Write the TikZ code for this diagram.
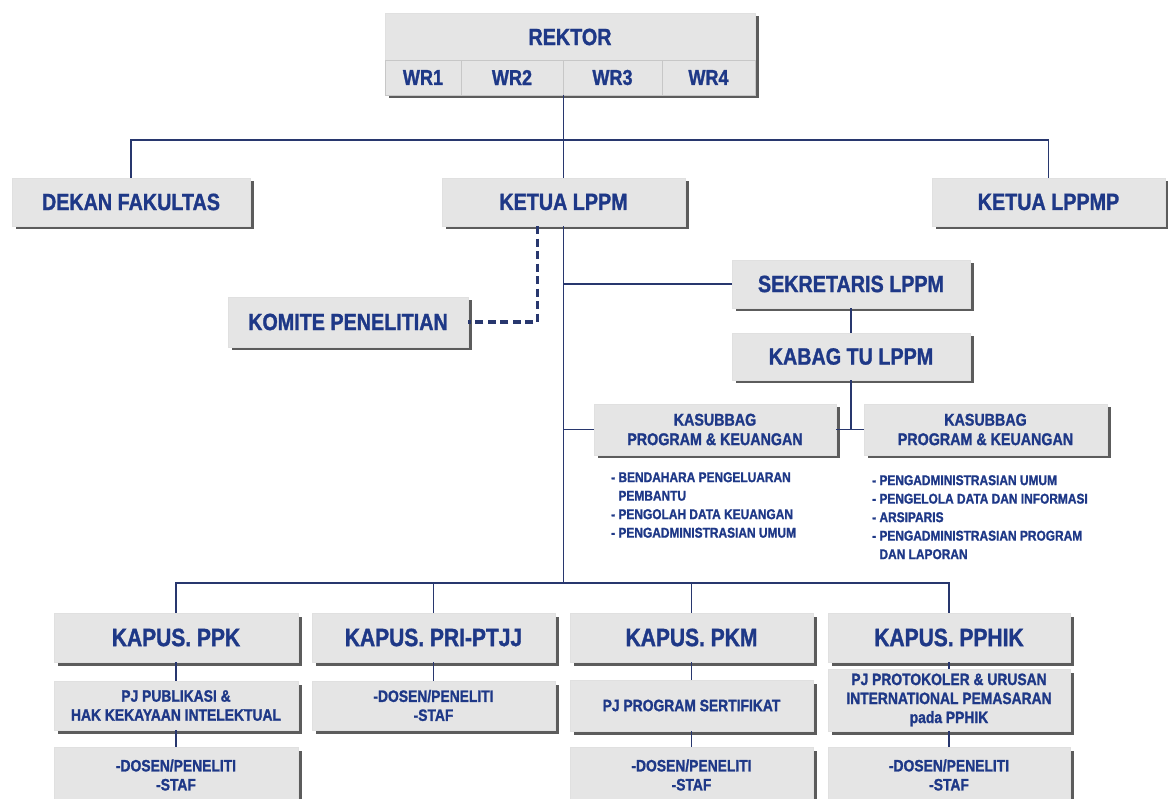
\documentclass[tikz,border=0pt]{standalone}
\usepackage{fontspec}
\setmainfont{Liberation Sans}[FakeStretch=0.84,FakeBold=1.3]
\usetikzlibrary{shadows}
\definecolor{txt}{RGB}{30,56,135}
\definecolor{ln}{RGB}{40,55,110}
\definecolor{boxf}{RGB}{229,229,229}
\tikzset{
  box/.style={fill=boxf, draw=black!12, line width=0.5pt,
    drop shadow={shadow xshift=3.5pt,shadow yshift=-3.5pt,fill=black!75,opacity=0.85},
    text=txt, align=center, inner sep=0pt},
  cell/.style={draw=black!22, line width=0.8pt, text=txt, inner sep=0pt,
    font={\fontsize{21.5}{24}\selectfont\bfseries}},
  fbig/.style={font={\fontsize{23.5}{26}\selectfont\bfseries}},
  fkap/.style={font={\fontsize{25}{28}\selectfont\bfseries}},
  fmid/.style={font={\fontsize{17}{19.5}\selectfont\bfseries}},
  fsml/.style={font={\fontsize{16.5}{19}\selectfont\bfseries}},
  flist/.style={font={\fontsize{14.2}{18.5}\selectfont\bfseries}, text=txt, align=left, inner sep=0pt},
  conn/.style={draw=ln, line width=1.4pt},
  dashconn/.style={draw=ln, line width=3.2pt, dash pattern=on 8pt off 4.5pt},
}
\begin{document}
\begin{tikzpicture}[x=1pt,y=-1pt]
\useasboundingbox (0,0) rectangle (1168,799);
\coordinate (bus1) at (563.5,140);
\coordinate (bus2) at (563.5,583);
% top row
\node[box, minimum width=370, minimum height=82] (rektor) at (570,54) {};
\node[text=txt, fbig, inner sep=0pt] (rektortxt) at (570,37) {REKTOR};
\node[cell, minimum width=76, minimum height=35] (wr1) at (423,77.5) {WR1};
\node[cell, minimum width=102, minimum height=35] (wr2) at (512,77.5) {WR2};
\node[cell, minimum width=99, minimum height=35] (wr3) at (612.5,77.5) {WR3};
\node[cell, minimum width=93, minimum height=35] (wr4) at (708.5,77.5) {WR4};
% second row
\node[box, fbig, minimum width=238, minimum height=48] (dekan) at (131,202) {DEKAN FAKULTAS};
\node[box, fbig, minimum width=243, minimum height=48] (ketua) at (563.5,202) {KETUA LPPM};
\node[box, fbig, minimum width=233, minimum height=48] (lppmp) at (1048.5,202) {KETUA LPPMP};
\node[box, fbig, minimum width=240, minimum height=50] (komite) at (348,322) {KOMITE PENELITIAN};
\node[box, fbig, minimum width=238, minimum height=48] (sek) at (851,284) {SEKRETARIS LPPM};
\node[box, fbig, minimum width=238, minimum height=47] (kabag) at (851,356.5) {KABAG TU LPPM};
\node[box, fmid, minimum width=242, minimum height=51] (kasub1) at (715,429.5) {KASUBBAG\\PROGRAM \& KEUANGAN};
\node[box, fmid, minimum width=243, minimum height=51] (kasub2) at (985.5,429.5) {KASUBBAG\\PROGRAM \& KEUANGAN};
\node[flist, anchor=north west] (list1) at (611,472) {- BENDAHARA PENGELUARAN\\\phantom{-\ }PEMBANTU\\- PENGOLAH DATA KEUANGAN\\- PENGADMINISTRASIAN UMUM};
\node[flist, anchor=north west] (list2) at (872,475) {- PENGADMINISTRASIAN UMUM\\- PENGELOLA DATA DAN INFORMASI\\- ARSIPARIS\\- PENGADMINISTRASIAN PROGRAM\\\phantom{-\ }DAN LAPORAN};
% kapus row
\node[box, fkap, minimum width=244, minimum height=49] (ppk) at (176,637.5) {KAPUS. PPK};
\node[box, fkap, minimum width=243, minimum height=49] (pri) at (433.5,637.5) {KAPUS. PRI-PTJJ};
\node[box, fkap, minimum width=243, minimum height=49] (pkm) at (691.5,637.5) {KAPUS. PKM};
\node[box, fkap, minimum width=242, minimum height=49] (pphik) at (949,637.5) {KAPUS. PPHIK};
% second sub row
\node[box, fsml, minimum width=244, minimum height=49] (pub) at (176,705.5) {PJ PUBLIKASI \&\\HAK KEKAYAAN INTELEKTUAL};
\node[box, fsml, minimum width=243, minimum height=49] (prid) at (433.5,705.5) {-DOSEN/PENELITI\\-STAF};
\node[box, fsml, minimum width=243, minimum height=51] (sert) at (691.5,705.5) {PJ PROGRAM SERTIFIKAT};
\node[box, fsml, minimum width=242, minimum height=62] (prot) at (949,700) {PJ PROTOKOLER \& URUSAN\\INTERNATIONAL PEMASARAN\\pada PPHIK};
% third row
\node[box, fsml, minimum width=244, minimum height=56] (ppkd) at (176,775) {-DOSEN/PENELITI\\-STAF};
\node[box, fsml, minimum width=243, minimum height=56] (pkmd) at (691.5,775) {-DOSEN/PENELITI\\-STAF};
\node[box, fsml, minimum width=242, minimum height=56] (pphikd) at (949,775) {-DOSEN/PENELITI\\-STAF};
% connectors
\draw[conn] (rektor.south -| ketua.north) -- (ketua.north);
\draw[conn] (dekan.north) |- (bus1) -| (lppmp.north);
\draw[conn] (ketua.south) -- (bus2);
\draw[conn] (ppk.north) |- (bus2) -| (pphik.north);
\draw[conn] (pri.north) -- (pri.north |- bus2);
\draw[conn] (pkm.north) -- (pkm.north |- bus2);
\draw[conn] (sek.west) -- (sek.west -| ketua.south);
\draw[conn] (sek.south) -- (kabag.north);
\draw[conn] (kabag.south) -- (kabag.south |- kasub1.east);
\draw[conn] (kasub1.east) -- (kasub2.west);
\draw[conn] (kasub1.west) -- (kasub1.west -| ketua.south);
\draw[dashconn] ([xshift=-26pt]ketua.south) |- (komite.east);
\draw[conn] (ppk.south) -- (pub.north);
\draw[conn] (pub.south) -- (ppkd.north);
\draw[conn] (pri.south) -- (prid.north);
\draw[conn] (pkm.south) -- (sert.north);
\draw[conn] (sert.south) -- (pkmd.north);
\draw[conn] (pphik.south) -- (prot.north);
\draw[conn] (prot.south) -- (pphikd.north);
\end{tikzpicture}
\end{document}
